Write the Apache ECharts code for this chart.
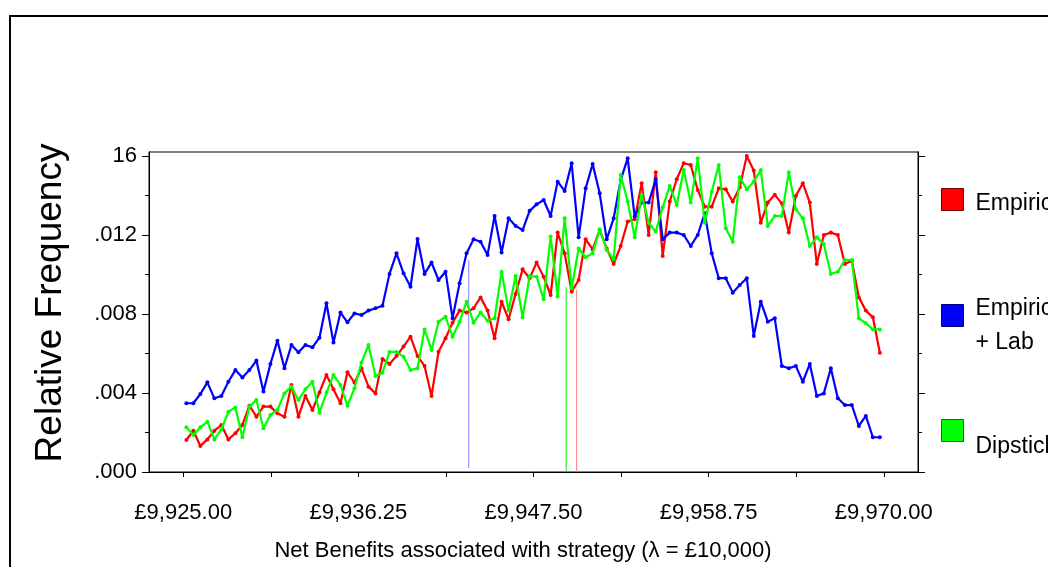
<!DOCTYPE html>
<html>
<head>
<meta charset="utf-8">
<script src="https://cdn.jsdelivr.net/npm/echarts@6/dist/echarts.min.js"></script>
<style>html,body{margin:0;padding:0;background:#fff;}#c{width:1048px;height:567px;}</style>
</head>
<body>
<div id="c"></div>
<script>
// Bin centres of the relative-frequency histogram (net benefit, £)
const binStart = 9925.2;
const binWidth = 0.45;

const empiric = [0.00162,0.00209,0.00132,0.00165,0.00209,0.00238,0.00165,0.00196,0.00238,0.00336,
0.00280,0.00331,0.00331,0.00297,0.00280,0.00441,0.00280,0.00385,0.00314,0.00403,
0.00491,0.00419,0.00348,0.00505,0.00452,0.00525,0.00432,0.00398,0.00572,0.00547,
0.00587,0.00635,0.00685,0.00587,0.00537,0.00385,0.00609,0.00677,0.00756,0.00817,
0.00807,0.00829,0.00884,0.00817,0.00677,0.00862,0.00773,0.00901,0.01026,0.00981,
0.01060,0.00989,0.00896,0.01212,0.01107,0.00913,0.00972,0.01178,0.01127,0.01225,
0.01132,0.01053,0.01144,0.01268,0.01279,0.01462,0.01200,0.01517,0.01094,0.01369,
0.01482,0.01563,0.01554,0.01428,0.01343,0.01343,0.01436,0.01431,0.01369,0.01441,
0.01600,0.01526,0.01262,0.01364,0.01403,0.01360,0.01212,0.01397,0.01462,0.01364,
0.01053,0.01200,0.01212,0.01200,0.01053,0.01070,0.00884,0.00817,0.00783,0.00604];

const empiricLab = [0.00348,0.00348,0.00395,0.00454,0.00373,0.00385,0.00457,0.00516,0.00478,0.00516,
0.00564,0.00407,0.00547,0.00665,0.00525,0.00643,0.00606,0.00643,0.00631,0.00680,
0.00854,0.00655,0.00807,0.00758,0.00803,0.00795,0.00817,0.00829,0.00842,0.01003,
0.01107,0.01006,0.00938,0.01180,0.01003,0.01060,0.00972,0.01014,0.00778,0.00955,
0.01107,0.01178,0.01166,0.01099,0.01296,0.01111,0.01284,0.01246,0.01225,0.01322,
0.01355,0.01377,0.01296,0.01470,0.01423,0.01563,0.01188,0.01436,0.01559,0.01411,
0.01178,0.01284,0.01478,0.01588,0.01293,0.01364,0.01364,0.01482,0.01178,0.01212,
0.01212,0.01200,0.01144,0.01200,0.01310,0.01107,0.00981,0.00981,0.00908,0.00947,
0.00981,0.00689,0.00862,0.00761,0.00778,0.00537,0.00525,0.00537,0.00457,0.00547,
0.00385,0.00398,0.00525,0.00373,0.00339,0.00339,0.00233,0.00284,0.00176,0.00176];

const dipstick = [0.00226,0.00187,0.00226,0.00255,0.00165,0.00216,0.00305,0.00327,0.00176,0.00331,
0.00365,0.00221,0.00289,0.00314,0.00398,0.00432,0.00365,0.00419,0.00457,0.00300,
0.00402,0.00491,0.00441,0.00336,0.00424,0.00554,0.00643,0.00486,0.00503,0.00608,
0.00608,0.00584,0.00516,0.00525,0.00722,0.00618,0.00761,0.00786,0.00685,0.00761,
0.00862,0.00756,0.00807,0.00766,0.00778,0.01014,0.00817,0.00992,0.00783,0.00992,
0.00989,0.00874,0.01192,0.00888,0.01284,0.00930,0.01132,0.01087,0.01107,0.01229,
0.01124,0.01077,0.01504,0.01369,0.01188,0.01403,0.01262,0.01217,0.01340,0.01448,
0.01352,0.01529,0.01364,0.01588,0.01262,0.01419,0.01554,0.01234,0.01166,0.01492,
0.01431,0.01470,0.01529,0.01246,0.01296,0.01296,0.01517,0.01330,0.01284,0.01144,
0.01188,0.01154,0.01003,0.01014,0.01073,0.01073,0.00778,0.00753,0.00722,0.00722];

// Mean markers: [x, bottom, top]
const meanEmpiric = [9950.27, 0, 0.00922];
const meanEmpiricLab = [9943.34, 0.0002, 0.01073];
const meanDipstick = [9949.6, 0, 0.00937];

const xTickLabels = [9925, 9936.25, 9947.5, 9958.75, 9970];
const xTicks = [9925, 9930.625, 9936.25, 9941.875, 9947.5, 9953.125, 9958.75, 9964.375, 9970];
const yTickLabels = [0, 0.004, 0.008, 0.012, 0.016];
const yMinorTicks = [0.002, 0.006, 0.010, 0.014];

const names = ['Empiric', 'Empiric + Lab', 'Dipstick'];
const colors = ['#ff0000', '#0000ff', '#00ff00'];
const borders = ['#7a0000', '#00007a', '#007a00'];

function pairs(vals) {
  return vals.map((v, i) => [+(binStart + binWidth * i).toFixed(3), v]);
}
function meanLine(m) { return [[m[0], m[1]], [m[0], m[2]]]; }

function money(v) {
  const s = v.toFixed(2);
  const parts = s.split('.');
  const intPart = parts[0].replace(/\B(?=(\d{3})+(?!\d))/g, ',');
  return '£' + intPart + '.' + parts[1];
}

const FONT = '"Liberation Sans", Arial, sans-serif';
const chart = echarts.init(document.getElementById('c'), null, {renderer: 'canvas'});

const yBase = {
  type: 'value', min: 0, max: 0.0162,
  splitLine: {show: false},
  axisLine: {show: true, lineStyle: {color: '#000', width: 1}}
};

function legend(idx, top, label, rich) {
  return {
    show: true,
    data: [{name: names[idx], itemStyle: {color: colors[idx], borderColor: borders[idx], borderWidth: 1}}],
    orient: 'vertical',
    left: 941, top: top, padding: 0,
    icon: 'rect',
    itemWidth: 22, itemHeight: 22,
    selectedMode: false,
    formatter: () => label,
    textStyle: {fontFamily: FONT, fontSize: 23, color: '#000', padding: [0, 0, 0, 7], rich: rich}
  };
}
const rt = (pt) => ({fontFamily: FONT, fontSize: 23, color: '#000', padding: [pt, 0, 0, 0]});

const option = {
  animation: false,
  backgroundColor: '#fff',
  graphic: [{
    type: 'rect', silent: true,
    shape: {x: 10, y: 16, width: 1200, height: 700},
    style: {fill: null, stroke: '#000', lineWidth: 2}
  }],
  legend: [
    legend(0, 188, '{a|Empiric}', {a: rt(8)}),
    legend(1, 297, '{a|Empiric}\n{b|+ Lab}', {a: rt(20), b: rt(11)}),
    legend(2, 419, '{a|Dipstick}', {a: rt(33)})
  ],
  grid: {left: 149, right: 130, top: 152, bottom: 95, show: true, borderColor: '#000', borderWidth: 1, backgroundColor: 'transparent'},
  xAxis: {
    type: 'value', min: 9922.8, max: 9972.2,
    name: 'Net Benefits associated with strategy (λ = £10,000)',
    nameLocation: 'middle', nameGap: 68,
    nameTextStyle: {fontFamily: FONT, fontSize: 22, color: '#000', padding: [0, 21, 0, 0]},
    splitLine: {show: false},
    axisLine: {show: true, lineStyle: {color: '#000', width: 1}},
    axisTick: {show: true, customValues: xTicks, length: 5, lineStyle: {color: '#000'}},
    axisLabel: {customValues: xTickLabels, margin: 30, fontFamily: FONT, fontSize: 22, color: '#000', formatter: money}
  },
  yAxis: [
    Object.assign({}, yBase, {
      position: 'left',
      name: 'Relative Frequency', nameLocation: 'middle', nameGap: 80,
      nameTextStyle: {fontFamily: FONT, fontSize: 37, color: '#000', padding: [0, 0, 0, 18]},
      axisTick: {show: true, customValues: yTickLabels, length: 7, lineStyle: {color: '#000'}},
      axisLabel: {customValues: yTickLabels, margin: 12, fontFamily: FONT, fontSize: 22, color: '#000',
        formatter: v => (Math.abs(v - 0.016) < 1e-9 ? '16' : v.toFixed(3).replace(/^0/, ''))}
    }),
    Object.assign({}, yBase, {
      position: 'left',
      axisTick: {show: true, customValues: yMinorTicks, length: 4, lineStyle: {color: '#000'}},
      axisLabel: {show: false}
    }),
    Object.assign({}, yBase, {
      position: 'right',
      axisTick: {show: true, customValues: yTickLabels, length: 7, lineStyle: {color: '#000'}},
      axisLabel: {show: false}
    }),
    Object.assign({}, yBase, {
      position: 'right',
      axisTick: {show: true, customValues: yMinorTicks, length: 4, lineStyle: {color: '#000'}},
      axisLabel: {show: false}
    })
  ],
  series: [
    {name: names[0], type: 'line', data: pairs(empiric), color: colors[0], symbol: 'circle', symbolSize: 4,
      lineStyle: {width: 2.2, color: colors[0]}, itemStyle: {color: colors[0]}, z: 3},
    {name: names[1], type: 'line', data: pairs(empiricLab), color: colors[1], symbol: 'circle', symbolSize: 4,
      lineStyle: {width: 2.2, color: colors[1]}, itemStyle: {color: colors[1]}, z: 3},
    {name: names[2], type: 'line', data: pairs(dipstick), color: colors[2], symbol: 'circle', symbolSize: 4,
      lineStyle: {width: 2.2, color: colors[2]}, itemStyle: {color: colors[2]}, z: 4},
    {name: 'meanEmpiric', type: 'line', data: meanLine(meanEmpiric), symbol: 'none', lineStyle: {width: 1, color: '#ff7f7f'}, z: 2},
    {name: 'meanEmpiricLab', type: 'line', data: meanLine(meanEmpiricLab), symbol: 'none', lineStyle: {width: 1, color: '#7f7fff'}, z: 2},
    {name: 'meanDipstick', type: 'line', data: meanLine(meanDipstick), symbol: 'none', lineStyle: {width: 1, color: '#00ee00'}, z: 2}
  ]
};
chart.setOption(option);
</script>
</body>
</html>
